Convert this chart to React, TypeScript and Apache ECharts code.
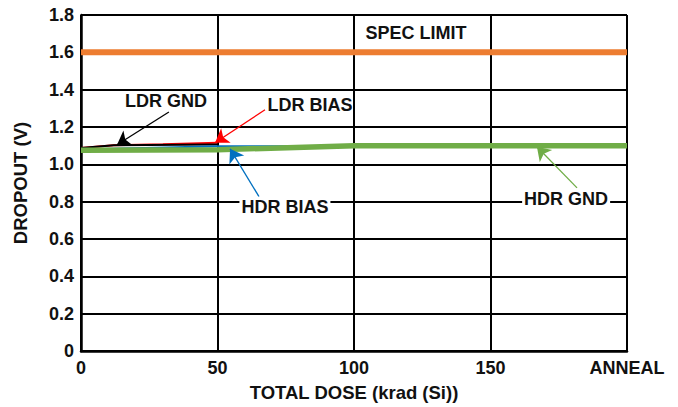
import React, { useEffect, useRef } from "react";
import * as echarts from "echarts";

// ---- Data ----
const xTickLabels = ["0", "50", "100", "150", "ANNEAL"];

const specDose = [0, 200];
const specValues = [1.6, 1.6];

const ldrGndDose = [0, 12, 50];
const ldrGndValues = [1.088, 1.102, 1.106];

const ldrBiasDose = [0, 12, 30, 50];
const ldrBiasValues = [1.088, 1.102, 1.108, 1.116];

const hdrBiasDose = [0, 50, 100, 150, 200];
const hdrBiasValues = [1.08, 1.097, 1.097, 1.097, 1.097];

const hdrGndDose = [0, 50, 100, 150, 200];
const hdrGndValues = [1.075, 1.078, 1.1, 1.1, 1.1];

// Annotation labels (data coordinates)
const labelTexts = ["SPEC LIMIT", "LDR GND", "LDR BIAS", "HDR BIAS", "HDR GND"];
const labelAt: number[][] = [
  [122.7, 1.704],
  [31.1, 1.34],
  [83.9, 1.318],
  [74.7, 0.773],
  [177.7, 0.816],
];
const labelBoxed = [false, false, false, true, true];

// Arrow callouts: tail -> tip (data coordinates)
const ldrGndArrow = [[32.2, 1.28], [13.2, 1.105]];
const ldrBiasArrow = [[67.4, 1.292], [49.1, 1.116]];
const hdrBiasArrow = [[65.2, 0.827], [54.6, 1.083]];
const hdrGndArrow = [[181.7, 0.874], [167.0, 1.094]];

const FONT = '"Liberation Sans", Arial, Helvetica, sans-serif';

function pairs(xs: number[], ys: number[]) {
  return xs.map((x, i) => [x, ys[i]]);
}

function arrow(a: number[][], color: string) {
  return {
    silent: true,
    symbol: ["none", "arrow"],
    symbolSize: 13,
    label: { show: false },
    emphasis: { disabled: true },
    lineStyle: { color, width: 1.3, type: "solid" },
    data: [[{ coord: a[0] }, { coord: a[1] }]],
  };
}

function lineSeries(name: string, data: number[][], color: string, width: number, markLine?: any) {
  return {
    name,
    type: "line",
    data,
    symbol: "none",
    showSymbol: false,
    silent: true,
    lineStyle: { color, width },
    itemStyle: { color },
    emphasis: { disabled: true },
    markLine,
  };
}

export default function App() {
  const ref = useRef<HTMLDivElement>(null);
  useEffect(() => {
    if (!ref.current) return;
    const chart = echarts.init(ref.current, undefined, { renderer: "svg" });
    const labelStyle = { color: "#111", fontSize: 18, fontWeight: "bold", fontFamily: FONT };
    const titleStyle = { color: "#111", fontSize: 18.5, fontWeight: "bold", fontFamily: FONT };
    chart.setOption({
      animation: false,
      backgroundColor: "#fff",
      grid: { left: 81, right: 51, top: 15, bottom: 56, containLabel: false },
      xAxis: {
        type: "value",
        min: 0,
        max: 200,
        interval: 50,
        axisLine: { show: true, onZero: false, lineStyle: { color: "#000", width: 2.5 } },
        axisTick: { show: false },
        splitLine: { show: true, lineStyle: { color: "#000", width: 2 } },
        axisLabel: {
          ...labelStyle,
          margin: 8,
          showMinLabel: true,
          showMaxLabel: true,
          formatter: (v: number) => xTickLabels[Math.round(v / 50)] ?? "",
        },
        name: "TOTAL DOSE (krad (Si))",
        nameLocation: "middle",
        nameGap: 32,
        nameTextStyle: titleStyle,
      },
      yAxis: {
        type: "value",
        min: 0,
        max: 1.8,
        interval: 0.2,
        axisLine: { show: true, onZero: false, lineStyle: { color: "#000", width: 2.5 } },
        axisTick: { show: false },
        splitLine: { show: true, lineStyle: { color: "#000", width: 2 } },
        axisLabel: {
          ...labelStyle,
          margin: 7,
          showMinLabel: true,
          showMaxLabel: true,
          formatter: (v: number) => (Math.abs(v) < 1e-9 ? "0" : v.toFixed(1)),
        },
        name: "DROPOUT (V)",
        nameLocation: "middle",
        nameGap: 51,
        nameTextStyle: titleStyle,
      },
      series: [
        lineSeries("SPEC LIMIT", pairs(specDose, specValues), "#ED7D31", 6),
        lineSeries("LDR BIAS", pairs(ldrBiasDose, ldrBiasValues), "#FF0000", 2, arrow(ldrBiasArrow, "#FF0000")),
        lineSeries("LDR GND", pairs(ldrGndDose, ldrGndValues), "#000000", 2, arrow(ldrGndArrow, "#000000")),
        lineSeries("HDR BIAS", pairs(hdrBiasDose, hdrBiasValues), "#0070C0", 2, arrow(hdrBiasArrow, "#0070C0")),
        lineSeries("HDR GND", pairs(hdrGndDose, hdrGndValues), "#70AD47", 5.5, arrow(hdrGndArrow, "#70AD47")),
      ],
    });

    const graphic = labelTexts.map((t, i) => {
      const p = chart.convertToPixel({ gridIndex: 0 }, labelAt[i]) as number[];
      const style: any = {
        text: t,
        fill: "#111",
        font: `bold 18px ${FONT}`,
        align: "center",
        verticalAlign: "middle",
      };
      if (labelBoxed[i]) {
        style.backgroundColor = "#fff";
        style.padding = [1, 2];
      }
      return { type: "text", x: p[0], y: p[1], z: 100, silent: true, style };
    });
    chart.setOption({ graphic });

    return () => chart.dispose();
  }, []);
  return (
    <div
      ref={ref}
      style={{ position: "absolute", left: 0, top: 0, width: 678, height: 407 }}
    />
  );
}
